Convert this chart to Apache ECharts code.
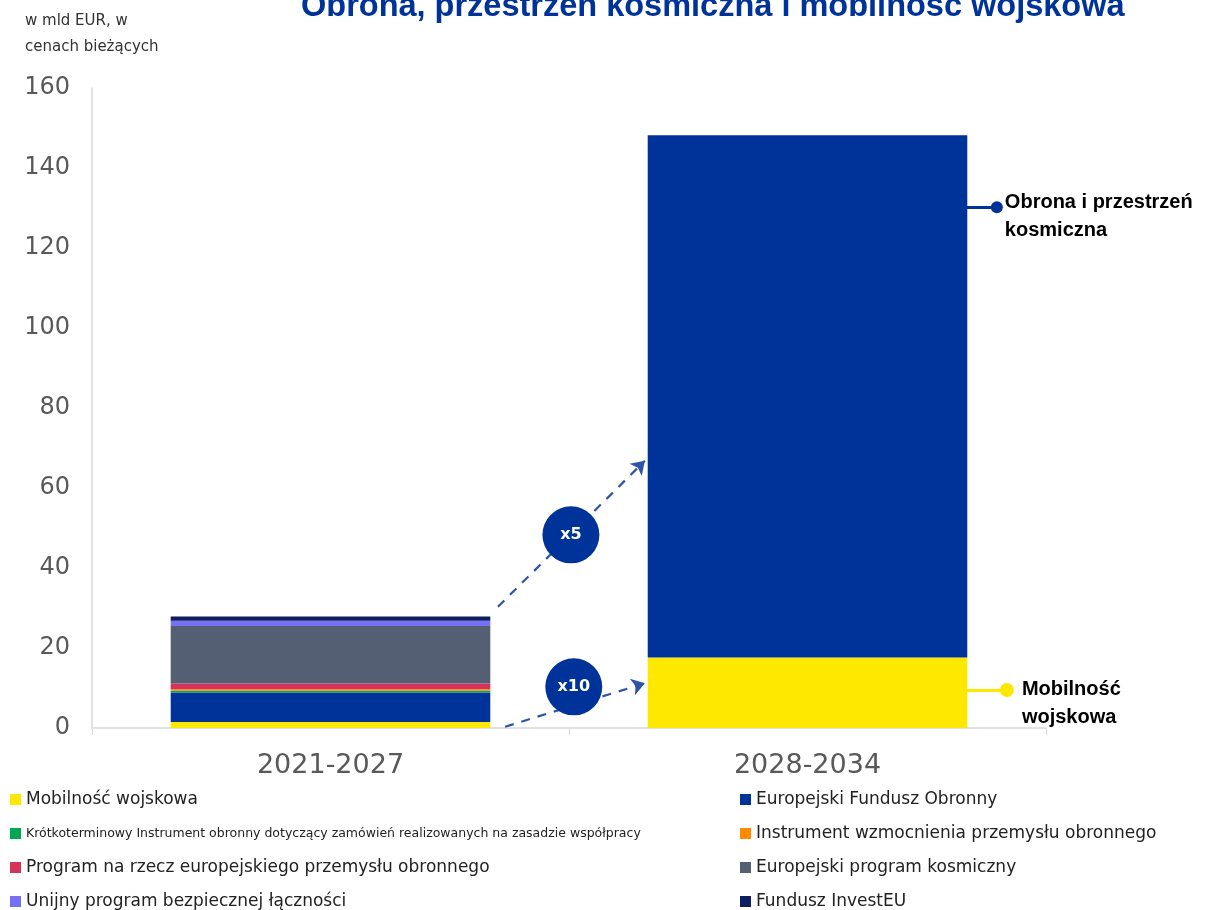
<!DOCTYPE html>
<html>
<head>
<meta charset="utf-8">
<script src="https://cdn.jsdelivr.net/npm/echarts@6/dist/echarts.min.js"></script>
<style>
  html, body { margin: 0; padding: 0; background: #fff; }
  #main { width: 1232px; height: 910px; }
</style>
</head>
<body>
<div id="main"></div>
<script>
// kategorie (okresy WRF)
var periods = ['2021-2027', '2028-2034'];

// wartości w mld EUR
var mobilnosc = [1.5, 17.6];
var efo = [7.4, null];
var krotkoterminowy = [0.4, null];
var wzmocnienie = [0.4, null];
var programPrzemyslu = [1.4, null];
var kosmiczny = [14.4, null];
var unijny = [1.3, null];
var investEU = [1.1, null];
var obronaKosmos = [null, 130.6];

var yTicks = [0, 20, 40, 60, 80, 100, 120, 140, 160];

// adnotacje (oś x pomocnicza 0..2, oś y w mld EUR)
var arrowLines = [
  [[0.851, 30.3], [1.159, 66.8]],
  [[0.866, 0.3], [1.159, 11.2]]
];
var badges = [
  { name: 'x5', value: [1.004, 48.3] },
  { name: 'x10', value: [1.010, 10.3] }
];
var calloutObrona = [[1.834, 130.2], [1.897, 130.2]];
var calloutMobilnosc = [[1.834, 9.5], [1.918, 9.5]];

var names = [
  'Mobilność wojskowa',
  'Europejski Fundusz Obronny',
  'Krótkoterminowy Instrument obronny dotyczący zamówień realizowanych na zasadzie współpracy',
  'Instrument wzmocnienia przemysłu obronnego',
  'Program na rzecz europejskiego przemysłu obronnego',
  'Europejski program kosmiczny',
  'Unijny program bezpiecznej łączności',
  'Fundusz InvestEU'
];
var colors = ['#FFE800', '#003399', '#00A650', '#FF8A00', '#D6335B', '#545F74', '#7570F5', '#0B1F5E'];
var values = [mobilnosc, efo, krotkoterminowy, wzmocnienie, programPrzemyslu, kosmiczny, unijny, investEU];

var blue = '#003399';
var font = 'DejaVu Sans';

var series = names.map(function (n, i) {
  return {
    name: n,
    type: 'bar',
    stack: 'total',
    barWidth: '67%',
    data: values[i],
    itemStyle: { color: colors[i] }
  };
});
series.push({
  name: 'Obrona i przestrzeń kosmiczna',
  type: 'bar',
  stack: 'total',
  data: obronaKosmos,
  itemStyle: { color: blue }
});

// strzałki przerywane
series.push({
  type: 'lines',
  coordinateSystem: 'cartesian2d',
  xAxisIndex: 1,
  yAxisIndex: 0,
  z: 5,
  symbol: ['none', 'arrow'],
  symbolSize: 13,
  lineStyle: { color: '#2E54A8', width: 2.2, type: [9, 8], opacity: 1 },
  data: arrowLines.map(function (c) { return { coords: c }; })
});
// kółka x5 / x10
series.push({
  type: 'scatter',
  xAxisIndex: 1,
  yAxisIndex: 0,
  z: 6,
  clip: false,
  symbolSize: 57,
  itemStyle: { color: blue, opacity: 1 },
  label: {
    show: true,
    position: 'inside',
    formatter: '{b}',
    color: '#fff',
    fontWeight: 'bold',
    fontSize: 16,
    fontFamily: font
  },
  data: badges
});
// objaśnienia po prawej
series.push({
  type: 'lines',
  coordinateSystem: 'cartesian2d',
  xAxisIndex: 1,
  yAxisIndex: 0,
  z: 5,
  lineStyle: { width: 3, opacity: 1 },
  data: [
    { coords: calloutObrona, lineStyle: { color: blue } },
    { coords: calloutMobilnosc, lineStyle: { color: '#FFE800' } }
  ]
});
series.push({
  type: 'scatter',
  xAxisIndex: 1,
  yAxisIndex: 0,
  z: 6,
  clip: false,
  data: [
    {
      value: calloutObrona[1], symbolSize: 12, itemStyle: { color: blue, opacity: 1 },
      label: { formatter: 'Obrona i przestrzeń\nkosmiczna', offset: [-3, 9] }
    },
    {
      value: calloutMobilnosc[1], symbolSize: 14, itemStyle: { color: '#FFE800', opacity: 1 },
      label: { formatter: 'Mobilność\nwojskowa', offset: [3, 13] }
    }
  ],
  label: {
    show: true,
    position: 'right',
    color: '#000',
    fontWeight: 'bold',
    fontSize: 20,
    lineHeight: 28,
    fontFamily: 'Liberation Sans'
  }
});

var legendText = {
  fontFamily: font,
  fontSize: 17,
  color: '#222',
  lineHeight: 17,
  rich: { s: { fontSize: 12.5, lineHeight: 17, fontFamily: font, color: '#222' } }
};
function legendFmt(n) {
  return n === names[2] ? '{s|' + n + '}' : n;
}

var option = {
  animation: false,
  title: {
    text: 'Obrona, przestrzeń kosmiczna i mobilność wojskowa',
    left: 296,
    top: -14,
    textStyle: { color: blue, fontSize: 32.5, fontWeight: 'bold', fontFamily: 'Liberation Sans' }
  },
  graphic: [{
    type: 'text',
    left: 25,
    top: 8,
    style: {
      text: 'w mld EUR, w\ncenach bieżących',
      font: '15px "DejaVu Sans"',
      lineHeight: 26,
      fill: '#333'
    }
  }],
  legend: [
    {
      data: [names[0], names[2], names[4], names[6]],
      orient: 'vertical',
      left: 10,
      top: 791,
      height: 200,
      padding: 0,
      itemGap: 17,
      itemWidth: 11,
      itemHeight: 11,
      icon: 'rect',
      formatter: legendFmt,
      textStyle: legendText
    },
    {
      data: [names[1], names[3], names[5], names[7]],
      orient: 'vertical',
      left: 740,
      top: 791,
      height: 200,
      padding: 0,
      itemGap: 17,
      itemWidth: 11,
      itemHeight: 11,
      icon: 'rect',
      textStyle: legendText
    }
  ],
  grid: { left: 92, right: 186, top: 88, bottom: 182, containLabel: false },
  xAxis: [
    {
      type: 'category',
      data: periods,
      axisLine: { lineStyle: { color: '#D9D9D9', width: 1.5 } },
      axisTick: { show: true, length: 7, lineStyle: { color: '#D9D9D9' } },
      axisLabel: { fontFamily: font, fontSize: 27, color: '#595959', margin: 24 }
    },
    { type: 'value', min: 0, max: 2, show: false }
  ],
  yAxis: {
    type: 'value',
    min: yTicks[0],
    max: yTicks[yTicks.length - 1],
    interval: yTicks[1] - yTicks[0],
    splitLine: { show: false },
    axisLine: { show: true, lineStyle: { color: '#D9D9D9', width: 1.5 } },
    axisTick: { show: false },
    axisLabel: { fontFamily: font, fontSize: 24, color: '#595959', margin: 22 }
  },
  series: series
};

var chart = echarts.init(document.getElementById('main'));
chart.setOption(option);
</script>
</body>
</html>
